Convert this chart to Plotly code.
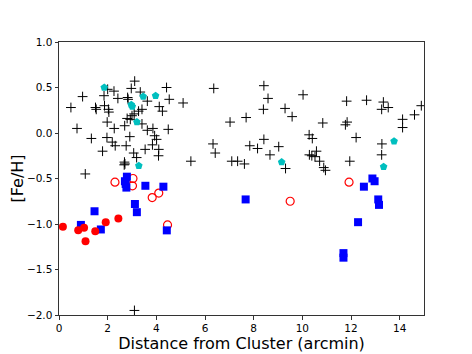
import plotly.graph_objects as go

# Field stars (black crosses)
cross_x = [0.49, 0.97, 0.74, 1.08, 1.33, 1.50, 1.53, 1.79, 1.85, 1.87, 1.98, 1.97, 2.03, 2.05,
           2.00, 2.26, 2.19, 2.31, 2.27, 2.42, 2.76, 2.70, 2.80, 2.82, 2.84, 2.91, 3.00, 3.09,
           2.97, 3.11, 3.07, 3.19, 2.69, 2.71, 2.68, 3.34, 3.63, 3.41, 3.27, 3.41, 3.63, 3.86,
           3.54, 3.93, 4.01, 3.84, 4.10, 4.09, 4.12, 4.25, 4.42, 4.53, 4.49, 5.10, 5.42, 2.93,
           3.10,
           6.36, 6.33, 6.42, 7.03, 7.10, 7.34, 7.62, 7.69, 7.84, 8.16, 8.42, 8.42, 8.59, 8.40,
           8.67, 9.03, 9.29, 9.31, 9.58, 10.03, 10.28, 10.41, 10.29, 10.39, 10.58, 10.52, 10.71,
           10.88, 10.95, 10.84, 11.82, 11.84, 11.77, 11.95, 12.21, 12.64, 13.33, 13.26, 13.53,
           13.27, 13.26, 14.12, 14.12, 14.61, 14.89]
cross_y = [0.28, 0.40, 0.05, -0.45, -0.06, 0.28, 0.26, -0.20, 0.41, 0.30, 0.12, -0.05, 0.26, 0.23,
           0.48, 0.46, -0.10, -0.14, 0.05, 0.38, -0.14, 0.08, 0.16, 0.39, 0.37, -0.04, 0.19, 0.21,
           0.49, 0.57, -0.22, -0.27, -0.32, -0.34, -0.35, 0.45, 0.35, 0.26, 0.24, 0.10, 0.03, 0.05,
           -0.18, -0.03, -0.07, -0.13, -0.18, -0.25, 0.29, 0.24, 0.50, 0.37, 0.04, 0.33, -0.31, 0.15,
           -1.95,
           0.49, -0.12, -0.22, 0.12, -0.31, -0.31, -0.34, 0.17, -0.14, -0.17, 0.52, -0.07, 0.38, 0.26,
           -0.24, -0.15, 0.27, -0.39, 0.18, 0.42, -0.02, -0.06, -0.24, -0.25, -0.20, -0.26, -0.31,
           -0.38, -0.41, 0.11, 0.35, 0.12, 0.09, -0.31, -0.05, 0.36, 0.34, 0.26, 0.28,
           -0.12, -0.24, 0.15, 0.06, 0.20, 0.30]

# Cyan pentagons
cyan_x = [1.86, 3.46, 3.97, 2.97, 3.01, 3.20, 3.28, 9.15, 13.77, 13.34]
cyan_y = [0.50, 0.40, 0.41, 0.31, 0.29, 0.12, -0.36, -0.32, -0.09, -0.37]

# Red open circles
ropen_x = [2.30, 3.04, 3.02, 3.83, 4.10, 4.46, 9.50, 11.92]
ropen_y = [-0.54, -0.50, -0.58, -0.71, -0.66, -1.01, -0.75, -0.54]

# Blue squares
blue_x = [0.90, 1.46, 1.72, 2.79, 2.71, 2.74, 2.77, 3.55, 4.29, 3.12, 3.20, 4.43, 7.67,
          12.53, 12.88, 12.97, 13.12, 13.15, 12.29, 11.69, 11.69]
blue_y = [-1.01, -0.86, -1.06, -0.48, -0.53, -0.56, -0.60, -0.58, -0.59, -0.78, -0.87, -1.07, -0.73,
          -0.59, -0.50, -0.53, -0.73, -0.79, -0.98, -1.32, -1.37]

# Red filled circles
rfill_x = [0.16, 0.79, 1.03, 1.09, 1.49, 1.92, 2.44]
rfill_y = [-1.03, -1.07, -1.04, -1.19, -1.08, -0.98, -0.94]

x_ticks = [0, 2, 4, 6, 8, 10, 12, 14]
y_ticks = [1.0, 0.5, 0.0, -0.5, -1.0, -1.5, -2.0]

fig = go.Figure()
fig.add_trace(go.Scatter(x=cross_x, y=cross_y, mode="markers",
                         marker=dict(symbol="cross-thin", size=7, color="black",
                                     line=dict(color="black", width=1))))
fig.add_trace(go.Scatter(x=cyan_x, y=cyan_y, mode="markers",
                         marker=dict(symbol="pentagon", size=8, color="#00bfbf",
                                     line=dict(width=0))))
fig.add_trace(go.Scatter(x=ropen_x, y=ropen_y, mode="markers",
                         marker=dict(symbol="circle-open", size=8, color="red",
                                     line=dict(color="red", width=1.2))))
fig.add_trace(go.Scatter(x=blue_x, y=blue_y, mode="markers",
                         marker=dict(symbol="square", size=8, color="blue",
                                     line=dict(width=0))))
fig.add_trace(go.Scatter(x=rfill_x, y=rfill_y, mode="markers",
                         marker=dict(symbol="circle", size=8, color="red",
                                     line=dict(width=0))))

axis_common = dict(showgrid=False, zeroline=False, showline=True, linecolor="#333",
                   linewidth=1, mirror=True, ticks="outside", ticklen=3.5, tickwidth=1,
                   tickcolor="#333", automargin=False,
                   tickfont=dict(family="DejaVu Sans", size=10.5, color="black"))

# The page body adds an 8px offset, so the figure is sized to fit the window
fig.update_layout(
    width=464, height=346,
    margin=dict(l=51, r=48, t=34, b=39, autoexpand=False),
    paper_bgcolor="white", plot_bgcolor="white",
    showlegend=False,
    font=dict(family="DejaVu Sans", color="black"),
    xaxis=dict(range=[0, 15], tickvals=x_ticks, ticktext=[str(v) for v in x_ticks],
               title=dict(text="Distance from Cluster (arcmin)", font=dict(size=16), standoff=2),
               **axis_common),
    yaxis=dict(range=[-2.0, 1.0], tickvals=y_ticks, tickformat=".1f",
               title=dict(text="[Fe/H]", font=dict(size=16), standoff=8),
               **axis_common),
)

fig.write_html("out.html")
